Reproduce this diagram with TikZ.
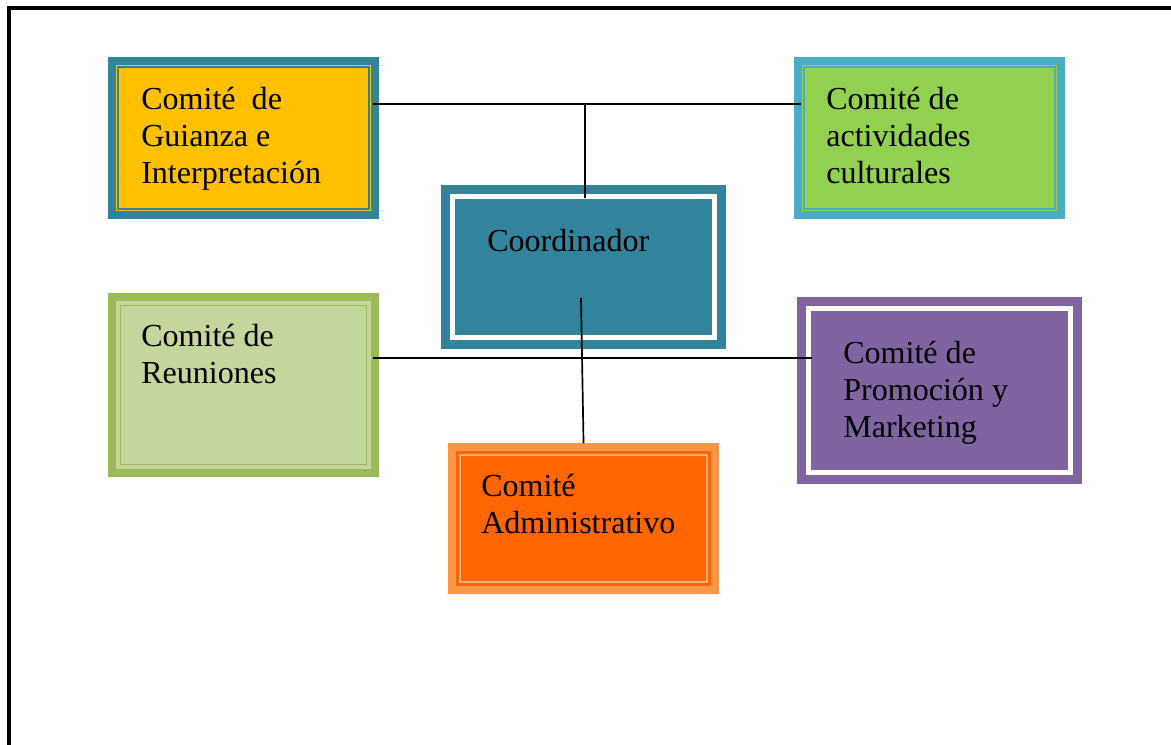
\documentclass[tikz,border=0pt]{standalone}
\usepackage{fontspec}
\setmainfont{Liberation Serif}
\usetikzlibrary{calc}

\definecolor{cteal}{HTML}{31849B}
\definecolor{cyellow}{HTML}{FFC000}
\definecolor{cblue}{HTML}{4BACC6}
\definecolor{cgreen}{HTML}{92D050}
\definecolor{colive}{HTML}{9BBB59}
\definecolor{clight}{HTML}{C3D69B}
\definecolor{corange}{HTML}{FF6600}
\definecolor{cpeach}{HTML}{F79646}
\definecolor{cpale}{HTML}{FAB07A}
\definecolor{cpurple}{HTML}{8064A2}

\tikzset{
  panel/.style n args={5}{rectangle, inner sep=0pt, outer sep=0pt, anchor=north west, fill=#1,
    path picture={
      \fill[#2] ([shift={(0.19cm,-0.19cm)}]path picture bounding box.north west) rectangle ([shift={(-0.19cm,0.19cm)}]path picture bounding box.south east);
      \draw[#3, line width=#5] ([shift={(#4,-#4)}]path picture bounding box.north west) rectangle ([shift={(-#4,#4)}]path picture bounding box.south east);
    }},
  lbl/.style={anchor=base west, inner sep=0pt, align=left, font=\fontsize{22.8}{26.3}\selectfont},
  link/.style={line width=1.2pt, draw=black},
}

\begin{document}
\begin{tikzpicture}[x=0.025cm, y=-0.025cm]
  \useasboundingbox (0,0) rectangle (1171,744);
  \clip (0,0) rectangle (1171,744);
  \draw[line width=3.5pt] (9,8) rectangle (1220,800);

  % committees
  \node[panel={cteal}{cyellow}{cteal}{0.25cm}{0.05cm}, minimum width=6.775cm, minimum height=4.05cm] (gui) at (108,57) {};
  \node[panel={cblue}{cgreen}{cblue}{0.25cm}{0.05cm}, minimum width=6.775cm, minimum height=4.05cm] (act) at (794,57) {};
  \node[panel={cteal}{cteal}{white}{0.29cm}{0.125cm}, minimum width=7.125cm, minimum height=4.1cm] (coo) at (441,185) {};
  \node[panel={colive}{clight}{colive}{0.31cm}{0.04cm}, minimum width=6.775cm, minimum height=4.6cm] (reu) at (108,293) {};
  \node[panel={cpeach}{corange}{cpale}{0.3cm}{0.05cm}, minimum width=6.775cm, minimum height=3.775cm] (adm) at (448,443) {};
  \node[panel={cpurple}{cpurple}{white}{0.29cm}{0.14cm}, minimum width=7.125cm, minimum height=4.675cm] (pro) at (797,297) {};

  % base anchor sits on the last line
  \node[lbl] (guit) at (141,183) {Comité\ \ de\\Guianza e\\Interpretación};
  \node[lbl] (actt) at (826,183) {Comité de\\actividades\\culturales};
  \node[lbl] (coot) at (487,251) {Coordinador};
  \node[lbl] (reut) at (141,383) {Comité de\\Reuniones};
  \node[lbl] (admt) at (481,533) {Comité\\Administrativo};
  \node[lbl] (prot) at (843,437) {Comité de\\Promoción y\\Marketing};

  % connectors
  \coordinate (tj) at (585,104);
  \coordinate (ml) at (0,358);
  \coordinate (cb) at (581,298);
  \draw[link] ($(gui.east |- tj)+(-0.15cm,0)$) -- ($(act.west |- tj)+(0.175cm,0)$);
  \draw[link] (tj) -- ($(coo.north -| tj)+(0,-0.325cm)$);
  \draw[link] ($(reu.east |- ml)+(-0.15cm,0)$) -- ($(pro.west |- ml)+(0.375cm,0)$);
  \draw[link] (cb) -- (adm.north);
\end{tikzpicture}
\end{document}
